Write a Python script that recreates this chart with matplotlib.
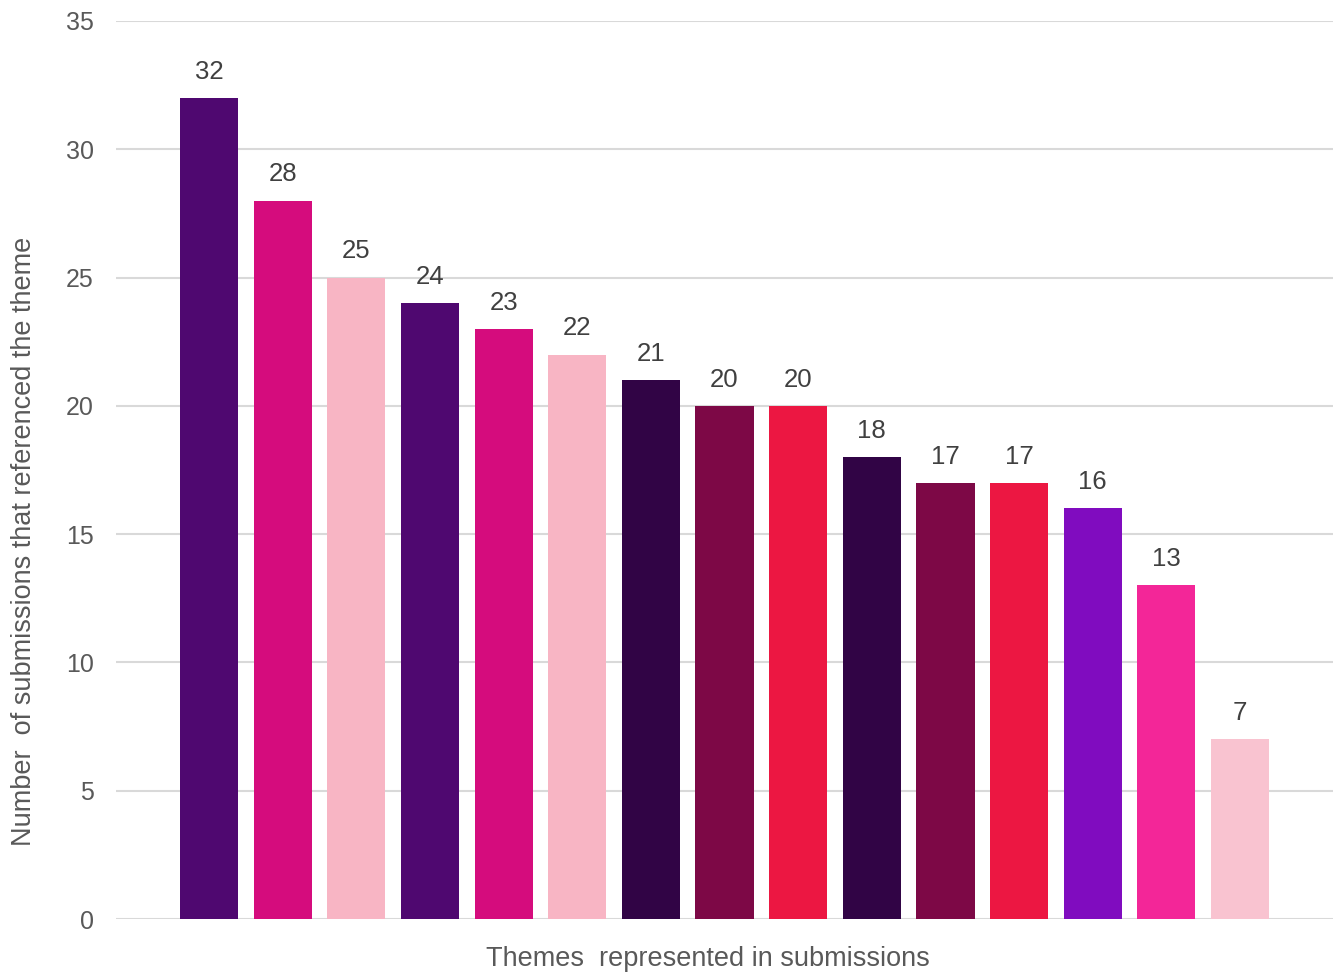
import matplotlib.pyplot as plt
import numpy as np

# valeurs
counts = [32, 28, 25, 24, 23, 22, 21, 20, 20, 18, 17, 17, 16, 13, 7]
bar_colors = ["#4F0870", "#D50C7D", "#F8B5C4", "#4F0870", "#D50C7D", "#F8B5C4",
              "#310445", "#7D0846", "#EC1742", "#310445", "#7D0846", "#EC1742",
              "#800CBF", "#F32698", "#F9C3D0"]
y_ticks = [0, 5, 10, 15, 20, 25, 30, 35]

plt.rcParams['font.family'] = ['Liberation Sans', 'DejaVu Sans']

fig = plt.figure(figsize=(13.38, 9.76), dpi=100)
ax = fig.add_axes([0.0867, 0.0584, 0.9096, 0.9201])

x = np.arange(len(counts))
bars = ax.bar(x, counts, width=0.79, color=bar_colors, zorder=3)
for xi, v in zip(x, counts):
    ax.text(xi, v + 0.55, str(v), ha='center', va='bottom', fontsize=18.5, color="#404040")

ax.set_xlim(-1.263, len(counts) - 1 + 1.263)
ax.set_ylim(0, 35)
ax.set_yticks(y_ticks)
ax.set_xticks([])
ax.tick_params(axis='y', length=0, pad=16, labelsize=18, labelcolor="#595959")
ax.grid(axis='y', color="#D9D9D9", lw=1.5, zorder=0)
for s in ax.spines.values():
    s.set_visible(False)

ax.set_xlabel('Themes  represented in submissions', fontsize=19.5, color="#595959")
ax.set_ylabel('Number  of submissions that referenced the theme', fontsize=19.5, color="#595959")
ax.xaxis.set_label_coords(0.486, -0.045)
ax.yaxis.set_label_coords(-0.076, 0.421)
ax.yaxis.label.set_va('center')
ax.xaxis.label.set_va('center')

plt.savefig('out.png')
